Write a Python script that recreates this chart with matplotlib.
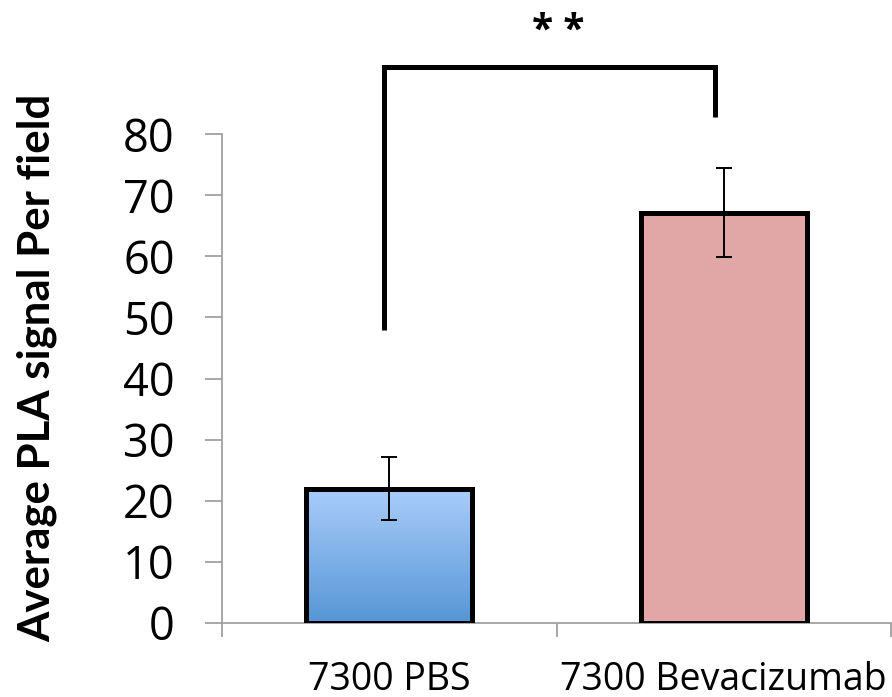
import numpy as np
import matplotlib
matplotlib.use("Agg")
import matplotlib.pyplot as plt
from matplotlib.colors import LinearSegmentedColormap

# Data
categories = ["7300 PBS", "7300 Bevacizumab"]
means = [22.0, 67.1]
errors = [5.1, 7.3]
y_ticks = [0, 10, 20, 30, 40, 50, 60, 70, 80]
ylabel = "Average PLA signal Per field"
significance = "* *"
bracket_y = [47.9, 91.0, 82.8]   # left foot, top, right foot

plt.rcParams["font.family"] = ["Open Sans", "DejaVu Sans"]

fig = plt.figure(figsize=(8.92, 6.97), dpi=100)
ax = fig.add_axes([222 / 892, 74 / 697, 669 / 892, 489 / 697])

x = np.arange(len(categories))
width = 0.495
bars = ax.bar(x, means, width=width, color=["none", "#E1A7A7"],
              edgecolor="black", linewidth=3.6, zorder=3)

# vertical blue gradient inside the first bar
grad = LinearSegmentedColormap.from_list("blue_grad", ["#5596D6", "#AACDFA"])
b0 = bars[0]
img = ax.imshow(np.linspace(0, 1, 256).reshape(-1, 1), cmap=grad, aspect="auto",
                origin="lower",
                extent=[b0.get_x(), b0.get_x() + b0.get_width(), 0, b0.get_height()],
                zorder=2)
img.set_clip_path(b0)

ax.errorbar(x, means, yerr=errors, fmt="none", ecolor="black",
            elinewidth=1.4, capsize=6, capthick=1.4, zorder=4)

ax.set_xlim(-0.5, 1.5)
ax.set_ylim(0, 80)
ax.set_yticks(y_ticks)
ax.set_yticklabels([str(v) for v in y_ticks], fontsize=32.5)
ax.set_xticks(x)
ax.set_xticklabels(categories, fontsize=27)
ax.set_xticks([-0.5, 0.5, 1.5], minor=True)

spine_col = "#A0A0A0"
for s in ["top", "right"]:
    ax.spines[s].set_visible(False)
for s in ["left", "bottom"]:
    ax.spines[s].set_color(spine_col)
    ax.spines[s].set_linewidth(1.3)

ax.tick_params(axis="y", which="major", length=12, width=1.3, color=spine_col,
               pad=22, labelcolor="black")
ax.tick_params(axis="x", which="major", length=0, pad=27, labelcolor="black")
ax.tick_params(axis="x", which="minor", length=10, width=1.3, color=spine_col)

fig.text(37 / 892, 1 - 367.5 / 697, ylabel, rotation=90, ha="center", va="center",
         fontsize=31.5, fontweight="bold", family=["Lato", "DejaVu Sans"])

# significance bracket
bx = [x[0] - 0.016, x[0] - 0.016, x[1] - 0.0275, x[1] - 0.0275]
by = [bracket_y[0], bracket_y[1], bracket_y[1], bracket_y[2]]
ax.plot(bx, by, color="black", linewidth=3.6, clip_on=False,
        solid_joinstyle="miter", solid_capstyle="butt", zorder=5)
ax.text((x[0] + x[1]) / 2 + 0.005, 96.8, significance, ha="center", va="center",
        fontsize=28, fontweight="bold")

fig.savefig("out.png", dpi=100)
